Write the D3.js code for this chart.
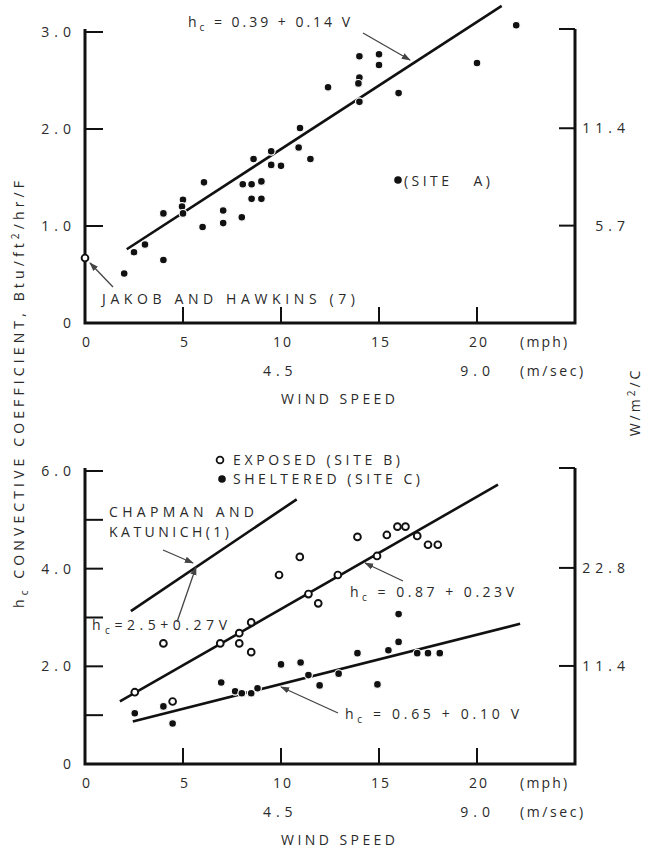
<!DOCTYPE html>
<html>
<head>
<meta charset="utf-8">
<script src="https://cdn.jsdelivr.net/npm/d3@7"></script>
<style>
  body { margin: 0; background: #fff; }
  text { font-family: "Open Sans", "DejaVu Sans", sans-serif; fill: #2a2a2a; }
  .lbl { font-size: 14px; letter-spacing: 3px; }
  .num { font-size: 14px; letter-spacing: 5px; }
  .mph { font-size: 14px; letter-spacing: 2px; }
</style>
</head>
<body>
<div id="chart"></div>
<script>

// wind speed ticks (mph) and the metric ones (m/sec)
var mphTicks = [0, 5, 10, 15, 20];
var msecTicks = [4.5, 9.0];

// site A (top panel), [mph, Btu/ft2/hr/F]
var siteA = [[2.0, 0.51], [2.5, 0.73], [3.06, 0.81], [4.0, 1.13], [4.0, 0.65], [5.0, 1.27], [4.95, 1.2],
    [5.0, 1.13], [6.07, 1.45], [6.0, 0.99], [7.05, 1.16], [7.05, 1.03], [8.0, 1.09], [8.05, 1.43],
    [8.5, 1.43], [9.0, 1.46], [8.5, 1.28], [9.0, 1.28], [8.6, 1.69], [9.5, 1.77], [9.5, 1.63],
    [10.0, 1.62], [10.97, 2.01], [10.9, 1.81], [11.5, 1.69], [12.4, 2.43], [14.0, 2.75], [15.0, 2.77],
    [15.0, 2.66], [14.0, 2.53], [13.95, 2.47], [14.0, 2.28], [16.0, 2.37], [20.0, 2.68], [22.0, 3.07]];
var jakob = [[0, 0.67]];

// site B exposed (open) and site C sheltered (filled)
var siteB = [[2.54, 1.47], [4.0, 2.47], [4.47, 1.28], [6.9, 2.47], [7.87, 2.68], [7.87, 2.47], [8.48, 2.9],
    [8.48, 2.29], [9.9, 3.87], [10.96, 4.24], [11.4, 3.48], [11.9, 3.29], [12.9, 3.87], [13.9, 4.65],
    [14.9, 4.26], [15.4, 4.69], [15.94, 4.86], [16.35, 4.86], [16.95, 4.67], [17.5, 4.49], [18.0, 4.49]];
var siteC = [[2.54, 1.04], [4.0, 1.18], [4.47, 0.83], [6.95, 1.67], [7.66, 1.49], [8.0, 1.45], [8.48, 1.45],
    [8.8, 1.55], [10.0, 2.04], [11.0, 2.08], [11.4, 1.82], [11.97, 1.61], [12.94, 1.85], [13.9, 2.27],
    [14.92, 1.63], [15.48, 2.33], [16.0, 3.07], [16.0, 2.5], [16.95, 2.27], [17.5, 2.27], [18.1, 2.27]];

// fitted lines (end points as drawn)
var fitA = [[2.13, 0.76], [21.26, 3.27]];
var fitB = [[1.78, 1.28], [21.07, 5.72]];
var fitC = [[2.44, 0.87], [22.2, 2.87]];
var chapman = [[2.34, 3.13], [10.8, 5.42]];

// axis ticks
var topTicks = [0, 1, 2, 3];
var botTicks = [0, 1, 2, 3, 4, 5, 6];
var topWTicks = [5.7, 11.4];
var botWTicks = [11.4, 22.8];

var W_PER_BTU = 5.678;
var MPH_PER_MS = 2.2369;

var svg = d3.select("#chart").append("svg")
    .attr("width", 649).attr("height", 851);

svg.append("defs").append("marker")
    .attr("id", "arrow")
    .attr("viewBox", "0 0 10 10")
    .attr("refX", 9).attr("refY", 5)
    .attr("markerWidth", 7).attr("markerHeight", 7)
    .attr("orient", "auto")
    .append("path")
    .attr("d", "M0,1.5 L10,5 L0,8.5 Z")
    .attr("fill", "#444");

var x = d3.scaleLinear().domain([0, 25]).range([85, 575]);
var yTop = d3.scaleLinear().domain([0, 3]).range([323, 32]);
var yBot = d3.scaleLinear().domain([0, 6]).range([764, 471]);

drawPanel(yTop, topTicks, 1, topWTicks);
drawPanel(yBot, botTicks, 2, botWTicks);


function label(xp, yp, str, len) {
    var t = svg.append("text").attr("class", "lbl").attr("x", xp).attr("y", yp)
        .style("white-space", "pre").text(str);
    if (len) t.attr("textLength", len).attr("lengthAdjust", "spacing");
    return t;
}

function drawPanel(y, ticks, labelEvery, wTicks) {
    var yMax = y.domain()[1];
    var yW = d3.scaleLinear().domain([0, yMax * W_PER_BTU]).range(y.range());
    var g = svg.append("g");

    // frame
    g.append("path")
        .attr("d", "M" + x(0) + "," + (y(yMax) - 3) + "V" + y(0) + "H" + x(25) + "V" + (y(yMax) - 3))
        .attr("fill", "none").attr("stroke", "#111").attr("stroke-width", 3);

    // bottom ticks, inward
    g.selectAll(".xt").data(mphTicks.filter(function (d) { return d > 0; })).enter()
        .append("line")
        .attr("x1", function (d) { return x(d); }).attr("x2", function (d) { return x(d); })
        .attr("y1", y(0)).attr("y2", y(0) - 16)
        .attr("stroke", "#111").attr("stroke-width", 2);

    g.selectAll(".xl").data(mphTicks).enter().append("text")
        .attr("class", "mph")
        .attr("x", function (d) { return x(d) + 2; })
        .attr("y", y(0) + 24)
        .attr("text-anchor", "middle")
        .text(function (d) { return d; });
    label(x(22.2), y(0) + 24, "(mph)", 50);

    g.selectAll(".ml").data(msecTicks).enter().append("text")
        .attr("class", "num")
        .attr("x", function (d) { return x(d * MPH_PER_MS) - 2; })
        .attr("y", y(0) + 53)
        .attr("text-anchor", "middle")
        .text(function (d) { return d.toFixed(1); });
    label(x(22.2), y(0) + 53, "(m/sec)", 66);

    label(x(10), y(0) + 81, "WIND SPEED", 117);

    // left ticks, inward
    g.selectAll(".yt").data(ticks.filter(function (d) { return d > 0; })).enter()
        .append("line")
        .attr("x1", x(0)).attr("x2", x(0) + 18)
        .attr("y1", function (d) { return y(d); }).attr("y2", function (d) { return y(d); })
        .attr("stroke", "#111").attr("stroke-width", 2);

    g.selectAll(".yl").data(ticks.filter(function (d) { return d % labelEvery === 0; })).enter()
        .append("text")
        .attr("class", "num")
        .attr("x", x(0) - 9)
        .attr("y", function (d) { return y(d) + 5; })
        .attr("text-anchor", "end")
        .text(function (d) { return d === 0 ? "0" : d.toFixed(1); });

    // right axis, W/m2/C
    var wt = wTicks.concat([yMax * W_PER_BTU]);
    g.selectAll(".wt").data(wt).enter().append("line")
        .attr("x1", x(25)).attr("x2", x(25) - 16)
        .attr("y1", function (d, i) { return i === wt.length - 1 ? yW(d) - 3 : yW(d); })
        .attr("y2", function (d, i) { return i === wt.length - 1 ? yW(d) - 3 : yW(d); })
        .attr("stroke", "#111").attr("stroke-width", 2);
    g.selectAll(".wl").data(wTicks).enter().append("text")
        .attr("class", "num")
        .attr("x", x(25) + 55)
        .attr("y", function (d) { return yW(d) + 5; })
        .attr("text-anchor", "end")
        .text(function (d) { return d.toFixed(1); });
}

function drawLine(data, yS) {
    svg.append("path")
        .attr("d", d3.line().x(function (d) { return x(d[0]); }).y(function (d) { return yS(d[1]); })(data))
        .attr("stroke", "#111").attr("stroke-width", 2.6).attr("fill", "none");
}

function drawDots(data, yS, open) {
    svg.append("g").selectAll("circle").data(data).enter().append("circle")
        .attr("cx", function (d) { return x(d[0]); })
        .attr("cy", function (d) { return yS(d[1]); })
        .attr("r", open ? 3.4 : 3.9)
        .attr("fill", open ? "#fff" : "#111")
        .attr("stroke", open ? "#111" : "#fff")
        .attr("stroke-width", open ? 1.9 : 1.2);
}

function arrow(x1, y1, x2, y2) {
    svg.append("line")
        .attr("x1", x1).attr("y1", y1).attr("x2", x2).attr("y2", y2)
        .attr("stroke", "#444").attr("stroke-width", 1.3)
        .attr("marker-end", "url(#arrow)");
}

function eqText(xp, yp, after, len) {
    var t = svg.append("text").attr("class", "lbl").attr("x", xp).attr("y", yp)
        .attr("textLength", len).attr("lengthAdjust", "spacing");
    t.append("tspan").text("h");
    t.append("tspan").attr("dy", 4).style("font-size", "10px").text("c");
    t.append("tspan").attr("dy", -4).text(after);
    return t;
}

// top panel
drawLine(fitA, yTop);
drawDots(siteA, yTop, false);
drawDots(jakob, yTop, true);

eqText(188, 27, " = 0.39 + 0.14 V", 165);
arrow(363, 33, 410, 60);

svg.append("circle").attr("cx", 398).attr("cy", 180).attr("r", 3.8).attr("fill", "#111");
label(404, 186, "(SITE   A)", 89);

label(102, 304, "JAKOB AND HAWKINS (7)", 256);
arrow(113, 287, 90, 263);

// bottom panel
drawLine(chapman, yBot);
drawLine(fitB, yBot);
drawLine(fitC, yBot);
drawDots(siteC, yBot, false);
drawDots(siteB, yBot, true);

svg.append("circle").attr("cx", 220).attr("cy", 460).attr("r", 3.4)
    .attr("fill", "#fff").attr("stroke", "#111").attr("stroke-width", 1.8);
label(233, 465, "EXPOSED (SITE B)", 170);
svg.append("circle").attr("cx", 222).attr("cy", 479).attr("r", 3.8).attr("fill", "#111");
label(233, 484, "SHELTERED (SITE C)", 190);

label(109, 517, "CHAPMAN AND", 148);
label(109, 537, "KATUNICH(1)", 123);
arrow(163, 550, 193, 563);

eqText(92, 630, "=2.5+0.27V", 138);
arrow(177, 622, 196, 567);

eqText(350, 597, " = 0.87 + 0.23V", 167);
arrow(403, 581, 365, 563);

eqText(345, 719, " = 0.65 + 0.10 V", 177);
arrow(338, 713, 281, 687);

// axis titles
var yt = svg.append("text").attr("class", "lbl")
    .attr("transform", "translate(24,608) rotate(-90)")
    .attr("textLength", 430).attr("lengthAdjust", "spacing");
yt.append("tspan").text("h");
yt.append("tspan").attr("dy", 4).style("font-size", "10px").text("c");
yt.append("tspan").attr("dy", -4).text(" CONVECTIVE COEFFICIENT, Btu/ft");
yt.append("tspan").attr("dy", -5).style("font-size", "10px").text("2");
yt.append("tspan").attr("dy", 5).text("/hr/F");

var wtit = svg.append("text").attr("class", "lbl")
    .attr("transform", "translate(640,402) rotate(-90)")
    .attr("text-anchor", "middle");
wtit.append("tspan").text("W/m");
wtit.append("tspan").attr("dy", -5).style("font-size", "10px").text("2");
wtit.append("tspan").attr("dy", 5).text("/C");

</script>
</body>
</html>
